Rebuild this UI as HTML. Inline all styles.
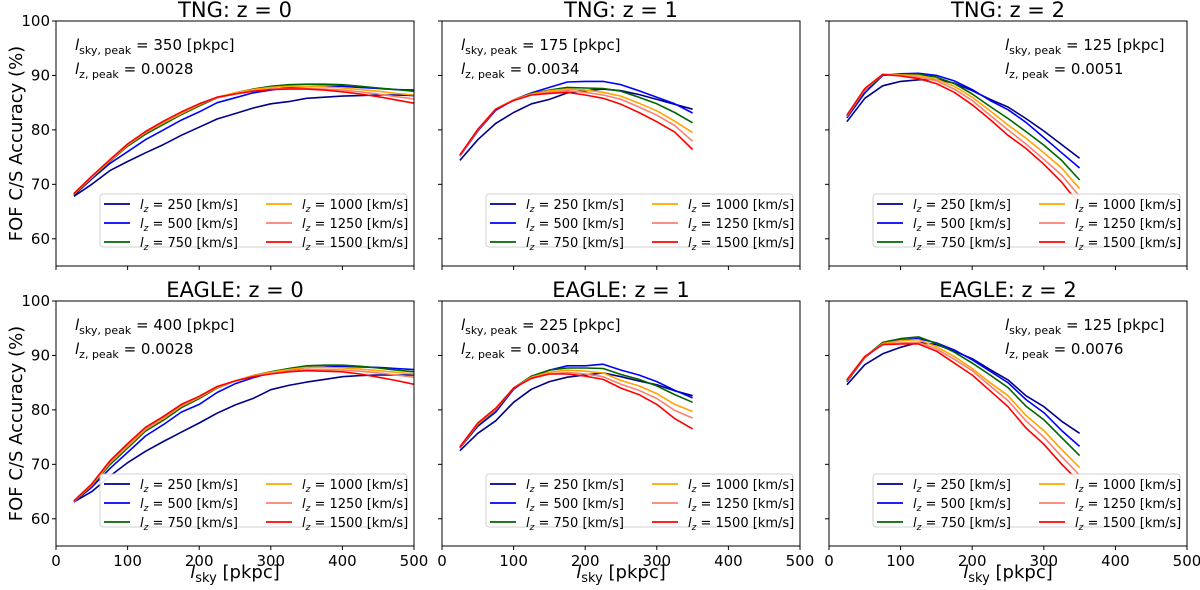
<!DOCTYPE html>
<html><head><meta charset="utf-8">
<style>
html,body{margin:0;padding:0;background:#fff;}
svg{display:block;font-family:"DejaVu Sans","Liberation Sans",sans-serif;}
</style></head>
<body>
<svg id="fig" width="1200" height="590" viewBox="0 0 1200 590" xmlns="http://www.w3.org/2000/svg"></svg>
<script>
const xTen=[25,50,75,100,125,150,175,200,225,250,275,300,325,350,375,400,425,450,475,500];
const xShort=[25,50,75,100,125,150,175,200,225,250,275,300,325,350];
const seriesLabels=["250","500","750","1000","1250","1500"];
const seriesColors=["#00008b","#0000ff","#006400","#ffa500","#fa8072","#ff0000"];
const xTicks=[0,100,200,300,400,500];
const yTicks=[60,70,80,90,100];
const panelTitles=["TNG: z = 0","TNG: z = 1","TNG: z = 2","EAGLE: z = 0","EAGLE: z = 1","EAGLE: z = 2"];
const peakSky=["350","175","125","400","225","125"];
const peakZ=["0.0028","0.0034","0.0051","0.0028","0.0034","0.0076"];
const tng0=[
[67.8,70,72.5,74.2,75.8,77.3,79,80.5,82,83,84,84.8,85.2,85.8,86,86.2,86.3,86.4,86.4,86.3],
[68,71,73.8,76,78.2,80,81.8,83.3,85,85.9,86.8,87.3,87.8,88,88,88,87.8,87.6,87.4,87.3],
[68.2,71.2,74.2,77,79.2,81,82.8,84.4,85.9,86.8,87.5,88,88.3,88.4,88.4,88.3,88,87.7,87.4,87.1],
[68.2,71.3,74.3,77.2,79.5,81.3,83,84.6,86,86.8,87.4,87.8,88,88,87.9,87.7,87.4,87.1,86.7,86.4],
[68.3,71.4,74.4,77.3,79.6,81.5,83.2,84.7,85.9,86.6,87.1,87.5,87.6,87.6,87.5,87.3,87,86.6,86.1,85.7],
[68.3,71.5,74.5,77.4,79.7,81.6,83.3,84.8,86,86.6,87.1,87.4,87.5,87.5,87.3,87,86.6,86.1,85.5,84.9]];
const tng1=[
[74.4,78.2,81.2,83.2,84.8,85.6,86.8,87.2,87.5,87.2,86.5,85.6,84.7,83.8],
[75.2,79.8,83.6,85.5,86.8,87.8,88.8,88.9,88.9,88.3,87.2,86,84.8,83.1],
[75.3,80,83.8,85.5,86.7,87.3,87.8,87.7,87.6,87.1,86,84.8,83.2,81.3],
[75.3,80,83.8,85.5,86.6,87.2,87.5,87.3,86.9,86.2,84.9,83.5,81.6,79.5],
[75.3,80,83.8,85.5,86.5,86.9,87.2,86.9,86.4,85.6,84.2,82.7,80.8,77.9],
[75.4,80.1,83.8,85.4,86.4,86.7,86.9,86.4,85.8,84.7,83.2,81.5,79.6,76.4]];
const tng2=[
[81.5,85.8,88.1,88.9,89.2,89.3,88.6,87.2,85.6,84.2,82.1,79.8,77.3,74.8],
[82.2,86.8,90,90.3,90.4,90,89,87.4,85.4,83.7,81.4,78.6,75.8,73],
[82.5,87.3,90.1,90.2,90.2,89.7,88.5,86.6,84.3,82.1,79.7,77.2,74.4,70.8],
[82.5,87.4,90.2,90.1,90,89.3,88,86,83.5,80.9,78.5,75.8,73,69.2],
[82.6,87.5,90.2,90,89.7,89,87.5,85.4,82.7,80,77.4,74.6,71.7,67.8],
[82.7,87.6,90.2,89.9,89.4,88.5,86.9,84.6,81.9,79,76.6,73.7,70.4,66.3]];
const eagle0=[
[63.1,65,67.8,70.3,72.4,74.2,75.9,77.6,79.4,80.9,82.1,83.7,84.5,85.1,85.6,86.1,86.3,86.4,86.4,86.4],
[63.1,65.8,69.2,72.2,75.2,77.3,79.6,81,83.2,84.8,85.9,86.8,87.3,87.8,87.9,88,87.9,87.8,87.6,87.4],
[63.2,66.1,69.9,73,76.1,78.1,80.4,82.1,84,85.3,86.3,87,87.6,88.1,88.2,88.2,88,87.7,87.3,87],
[63.2,66.2,70.2,73.3,76.4,78.4,80.7,82.3,84.1,85.3,86.3,86.9,87.4,87.8,87.8,87.7,87.5,87.2,86.9,86.6],
[63.2,66.3,70.4,73.6,76.6,78.6,80.9,82.4,84.2,85.3,86.2,86.7,87.1,87.4,87.4,87.3,87.1,86.8,86.4,86],
[63.3,66.4,70.6,73.8,76.8,78.8,81,82.5,84.3,85.3,86.1,86.6,87,87.2,87.1,87,86.6,86,85.4,84.7]];
const eagle1=[
[72.5,75.7,78,81.4,83.8,85.2,86,86.4,86.8,86.1,85.3,84.6,83.5,82.6],
[73,77,79.6,83.8,86.1,87.3,88.1,88.1,88.4,87.3,86.4,85.2,83.6,82.2],
[73.1,77.3,80,84,86.2,87.3,87.7,87.7,87.6,86.5,85.6,84.4,82.8,81.4],
[73.1,77.4,80.1,84,86,86.9,87.3,87.1,86.8,85.4,84.4,83,81,79.7],
[73.2,77.5,80.2,84,85.9,86.6,86.9,86.6,86.1,84.7,83.6,82.1,79.9,78.5],
[73.2,77.6,80.3,84,85.8,86.6,86.6,86.2,85.6,84,82.8,81,78.4,76.5]];
const eagle2=[
[84.6,88.3,90.3,91.5,92.4,92,90.8,89.4,87.4,85.5,82.6,80.6,77.9,75.7],
[85.2,89.6,92.2,92.8,93.1,92.3,91,89.2,87.1,85,81.9,79.5,76.2,73.3],
[85.3,89.7,92.4,93.1,93.4,92.2,90.6,88.6,86.4,84.1,80.7,78.2,74.9,71.6],
[85.4,89.7,92.2,92.7,92.9,91.6,89.8,87.6,85,82.6,79,76.2,72.7,69.4],
[85.5,89.8,92.1,92.3,92.4,91.2,89.3,87.2,84.4,81.7,78,75,71.4,68],
[85.5,89.8,92,92.1,92.1,90.8,88.6,86.4,83.5,80.6,76.7,73.7,70,66.7]];

const NS="http://www.w3.org/2000/svg";
const svg=document.getElementById('fig');
function mk(tag,attrs,parent){const e=document.createElementNS(NS,tag);for(const k in attrs)e.setAttribute(k,attrs[k]);(parent||svg).appendChild(e);return e;}

const colLeft=[56,442,829], colW=358;
const rowTop=[21,301], rowH=245;
const panels=[
 {d:tng0,x:xTen},{d:tng1,x:xShort},{d:tng2,x:xShort},
 {d:eagle0,x:xTen},{d:eagle1,x:xShort},{d:eagle2,x:xShort}];

panels.forEach((p,i)=>{
  const r=Math.floor(i/3), c=i%3;
  const L=colLeft[c], T=rowTop[r], W=colW, H=rowH;
  const sx=v=>L+v/500*W;
  const sy=v=>T+(100-v)/45*H;
  const g=mk('g',{});
  
  
  const title=mk('text',{x:L+W/2,y:T-4,'text-anchor':'middle','font-size':21,fill:'#000'},g);
  title.textContent=panelTitles[i];
  
  
  xTicks.forEach(t=>{
    const tk=mk('line',{x1:sx(t),x2:sx(t),y1:T+H,y2:T+H+4,stroke:'#000','stroke-width':1},g);
    
    
    if(r===1){
      const tl=mk('text',{x:sx(t),y:T+H+20,'text-anchor':'middle','font-size':15,fill:'#000'},g);
      tl.textContent=t;
      
      
    }
  });
  yTicks.forEach(t=>{
    const tk=mk('line',{x1:L-4,x2:L,y1:sy(t),y2:sy(t),stroke:'#000','stroke-width':1},g);
    
    
    if(c===0){
      const tl=mk('text',{x:L-6,y:sy(t)+5,'text-anchor':'end','font-size':15,fill:'#000'},g);
      tl.textContent=t;
      
      
    }
  });
  p.d.forEach((vals,k)=>{
    const pts=vals.map((v,j)=>sx(p.x[j]).toFixed(1)+','+sy(v).toFixed(1)).join(' ');
    const pl=mk('polyline',{points:pts,fill:'none',stroke:seriesColors[k],'stroke-width':1.6,'stroke-linejoin':'round'},g);
    
    
  });
  const fr=mk('rect',{x:L,y:T,width:W,height:H,fill:'none',stroke:'#000','stroke-width':1},g);
  
  
  const ax=(c===2)?L+176:L+19;
  const a1=mk('text',{x:ax,y:T+29,'font-size':15,fill:'#000'},g);
  a1.innerHTML='<tspan font-style="italic">l</tspan><tspan font-size="11" dy="4">sky, peak</tspan><tspan dy="-4"> = '+peakSky[i]+' [pkpc]</tspan>';
  
  
  const a2=mk('text',{x:ax,y:T+53,'font-size':15,fill:'#000'},g);
  a2.innerHTML='<tspan font-style="italic">l</tspan><tspan font-size="11" dy="4">z, peak</tspan><tspan dy="-4"> = '+peakZ[i]+'</tspan>';
  
  
  const lg=mk('g',{},g);
  
  
  const lx=L+W-307-7, ly=T+H-67-5;
  mk('rect',{x:lx,y:ly,width:307,height:53,rx:3,fill:'#fff',stroke:'#ccc','stroke-width':1,opacity:0.9},lg);
  seriesLabels.forEach((s,k)=>{
    const col=Math.floor(k/3), row=k%3;
    const ex=lx+4+col*162, ey=ly+10+row*19;
    const e=mk('g',{},lg);
    
    
    mk('line',{x1:ex,x2:ex+26,y1:ey,y2:ey,stroke:seriesColors[k],'stroke-width':1.8},e);
    const t=mk('text',{x:ex+36,y:ey+5,'font-size':13,fill:'#000'},e);
    t.innerHTML='<tspan font-style="italic">l</tspan><tspan font-size="9" font-style="italic" dy="3">z</tspan><tspan dy="-3"> = '+s+' [km/s]</tspan>';
  });
});
[0,1].forEach(r=>{
  const T=rowTop[r];
  const yl=mk('text',{x:0,y:0,'text-anchor':'middle','font-size':18,fill:'#000',transform:'translate(22,'+(T+rowH/2)+') rotate(-90)'});
  yl.textContent='FOF C/S Accuracy (%)';
  
  
});
colLeft.forEach(L=>{
  const xl=mk('text',{x:L+colW/2,y:578,'text-anchor':'middle','font-size':18,fill:'#000'});
  xl.innerHTML='<tspan font-style="italic">l</tspan><tspan font-size="13" dy="4">sky</tspan><tspan dy="-4"> [pkpc]</tspan>';
  
  
});
</script>
</body></html>
